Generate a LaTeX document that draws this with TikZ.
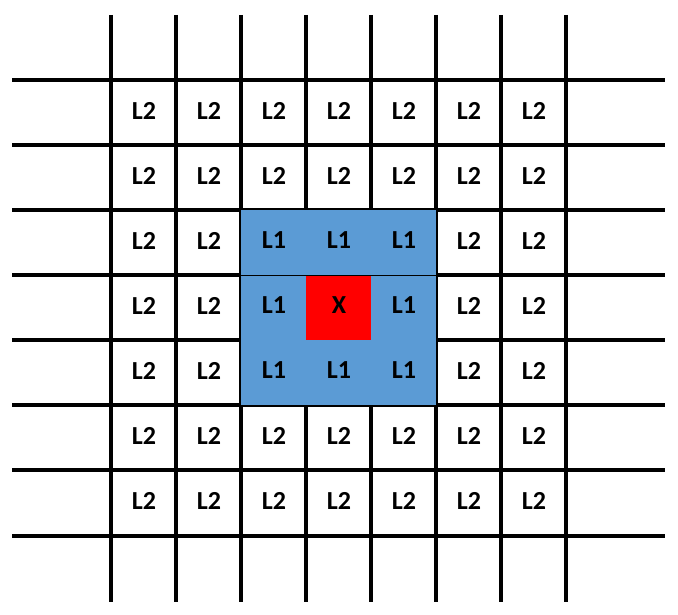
\documentclass[tikz,border=0pt]{standalone}
\usepackage{fontspec}
\setmainfont{Carlito}
\definecolor{zoneblue}{RGB}{91,155,213}
\definecolor{xred}{RGB}{255,0,0}
\begin{document}
\begin{tikzpicture}[x=1pt,y=-1pt,
  gridline/.style={line width=4.5pt,black},
  zone/.style={fill=zoneblue,draw=black,line width=0.8pt},
  lab/.style={font=\fontsize{26}{28}\selectfont\bfseries,inner sep=0pt}]
\useasboundingbox (0,0) rectangle (678,615);
% grid lines
\foreach \x in {111,176,241,306,371,436,501,566}
  \draw[gridline] (\x,15) -- (\x,602);
\foreach \y in {80,145,210,275,340,405,470,536}
  \draw[gridline] (12,\y) -- (665,\y);
% blue zone
\draw[zone] (240.5,209.5) rectangle (436,275);
\draw[zone] (240.5,275) rectangle (436,405.5);
\fill[xred] (306,275.5) rectangle (371,340);
% labels
\foreach \i/\x in {0/144,1/209,2/274,3/339,4/404,5/469,6/534}
  \foreach \j/\y in {0/110.5,1/175.5,2/240.5,3/305.5,4/370.5,5/435.5,6/500.5}{
    \pgfmathtruncatemacro{\di}{abs(\i-3)}
    \pgfmathtruncatemacro{\dj}{abs(\j-3)}
    \pgfmathtruncatemacro{\d}{max(\di,\dj)}
    \ifnum\d=0
      \node[lab] (c\i\j) at (\x,\y) {X};
    \else\ifnum\d=1
      \node[lab] (c\i\j) at (\x,\y) {L1};
    \else
      \node[lab] (c\i\j) at (\x,\y) {L2};
    \fi\fi
  }
\end{tikzpicture}
\end{document}
